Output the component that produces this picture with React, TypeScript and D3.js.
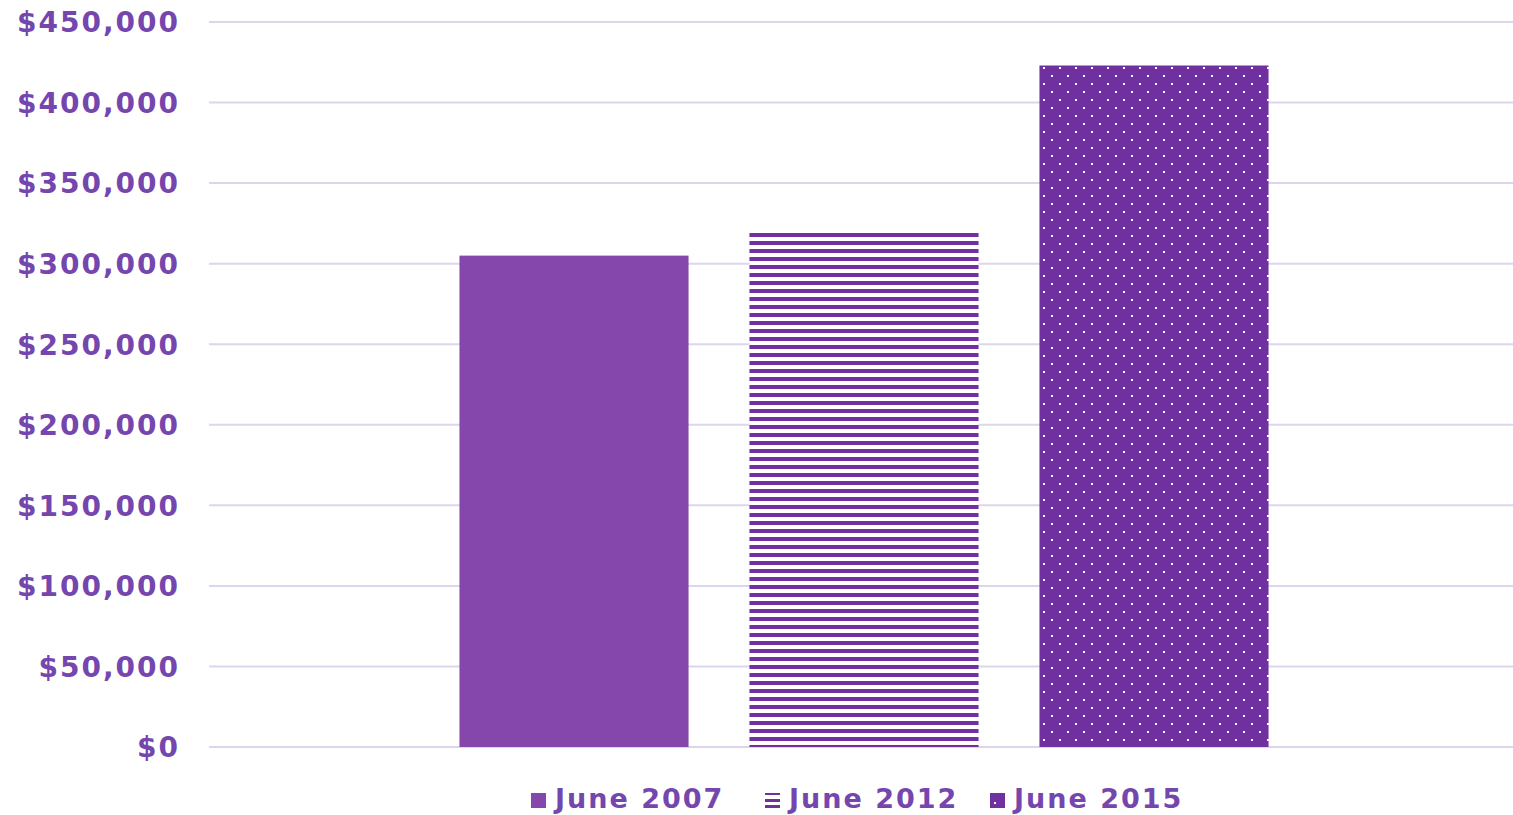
import React from "react";
import * as d3 from "d3";

const series = ["June 2007", "June 2012", "June 2015"];
const values = [305000, 320000, 423000];
const yTicks = [0, 50000, 100000, 150000, 200000, 250000, 300000, 350000, 400000, 450000];

const W = 1513;
const H = 815;
const margin = { left: 209, right: 0, top: 22, bottom: 68 };

export default function App() {
  const y = d3.scaleLinear().domain([0, 450000]).range([H - margin.bottom, margin.top]);
  const x0 = d3
    .scaleBand<string>()
    .domain(["all"])
    .range([margin.left, W - margin.right])
    .paddingOuter(0.2)
    .paddingInner(0);
  const gw = 870;
  const gx = (x0("all") as number) + x0.bandwidth() / 2 - gw / 2 + 3;
  const x1 = d3.scaleBand<string>().domain(series).range([gx, gx + gw]).paddingInner(0.21).paddingOuter(0.105);
  const fmt = (v: number) => "$" + d3.format(",")(v);
  const textColor = "#7446ae";
  const fills = ["#8547ac", "url(#stripes)", "url(#dots)"];
  const legendX = [531, 765, 990];
  const font = "'DejaVu Sans', sans-serif";

  return (
    <svg width={W} height={H} style={{ position: "absolute", left: 0, top: 0 }}>
      <defs>
        <pattern id="stripes" patternUnits="userSpaceOnUse" width={8} height={8} x={0} y={1}>
          <rect width={8} height={8} fill="#ffffff" />
          <rect width={8} height={4} fill="#7030a0" />
        </pattern>
        <pattern id="dots" patternUnits="userSpaceOnUse" width={16} height={16} x={3} y={3}>
          <rect width={16} height={16} fill="#7030a0" />
          <rect x={0} y={0} width={2} height={2} fill="#ffffff" />
          <rect x={8} y={8} width={2} height={2} fill="#ffffff" />
        </pattern>
      </defs>
      {yTicks.map((t) => (
        <g key={t}>
          <line x1={margin.left} x2={W} y1={y(t)} y2={y(t)} stroke="#ddd5ec" strokeWidth={2} />
          <text
            x={180}
            y={y(t)}
            dy="0.37em"
            textAnchor="end"
            fill={textColor}
            fontFamily={font}
            fontWeight="bold"
            fontSize={28}
            letterSpacing={2}
          >
            {fmt(t)}
          </text>
        </g>
      ))}
      {series.map((s, i) => (
        <rect
          key={s}
          x={x1(s)}
          width={x1.bandwidth()}
          y={y(values[i])}
          height={y(0) - y(values[i])}
          fill={fills[i]}
        />
      ))}
      {series.map((s, i) => (
        <g key={"lg" + s}>
          {i === 0 && <rect x={legendX[i]} y={793} width={15} height={15} fill="#8547ac" />}
          {i === 1 && (
            <g>
              <rect x={legendX[i]} y={793} width={15} height={2} fill="#7030a0" />
              <rect x={legendX[i]} y={799} width={15} height={3} fill="#7030a0" />
              <rect x={legendX[i]} y={805} width={15} height={3} fill="#7030a0" />
            </g>
          )}
          {i === 2 && (
            <g>
              <rect x={legendX[i]} y={793} width={15} height={15} fill="#7030a0" />
              <rect x={legendX[i] + 4} y={802} width={2} height={2} fill="#ffffff" />
            </g>
          )}
          <text
            x={legendX[i] + 24}
            y={808}
            fill={textColor}
            fontFamily={font}
            fontWeight="bold"
            fontSize={27}
            letterSpacing={2}
          >
            {s}
          </text>
        </g>
      ))}
    </svg>
  );
}
